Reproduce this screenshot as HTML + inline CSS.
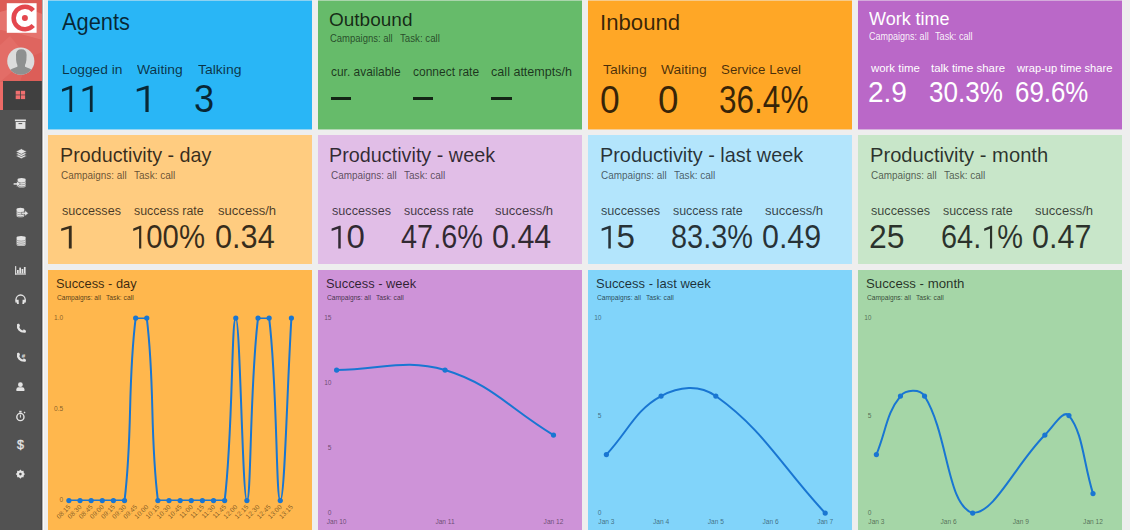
<!DOCTYPE html>
<html><head><meta charset="utf-8"><style>
*{margin:0;padding:0;box-sizing:border-box}
html,body{width:1130px;height:530px;overflow:hidden;background:#eeeeee;font-family:"Liberation Sans", sans-serif}
#sb{position:absolute;left:0;top:0;width:42px;height:530px}
#sbline{position:absolute;left:42px;top:0;width:2px;height:530px;background:linear-gradient(90deg,#b0b0b0 0,#b0b0b0 1px,#fafafa 1px)}
.card{position:absolute;width:264px}
.t{position:absolute;white-space:nowrap;line-height:1;--c:rgba(0,0,0,0.78);color:var(--c);transform-origin:0 0}
.o{position:relative;color:transparent}
.o svg{position:absolute;left:0;top:0;width:0.5562em;height:1.117em;fill:var(--c);overflow:visible}
.dash{position:absolute;height:2.4px;background:rgba(0,0,0,0.8)}
.ov{position:absolute;left:0;top:0}
.ov text{font-family:"Liberation Sans", sans-serif}
</style></head><body>
<div id="sb">
<svg width="42" height="530" viewBox="0 0 42 530" style="position:absolute;left:0;top:0">
<defs><clipPath id="av"><circle cx="20.8" cy="61.1" r="13.6"/></clipPath></defs>
<rect x="0" y="0" width="42" height="110" fill="#e0665f"/>
<polygon points="0,0 42,0 42,14 22,6 0,12" fill="#dc5c56"/>
<polygon points="0,12 22,6 42,14 42,40 20,34 0,30" fill="#e5736d"/>
<polygon points="0,30 20,34 42,40 42,82 0,82" fill="#df655f"/>
<polygon points="0,45 10,36 28,58 0,82" fill="#e36d67"/>
<polygon points="28,58 42,52 42,82 20,82" fill="#dc5e58"/>
<rect x="0" y="82" width="3" height="28" fill="#ec6a66"/>
<rect x="3" y="81" width="39" height="29" fill="#404040"/>
<rect x="0" y="110" width="42" height="420" fill="#525252"/>
<rect x="41" y="81" width="1" height="449" fill="#484848"/>
<rect x="6.8" y="3.2" width="29.8" height="29.6" fill="#fff"/>
<path d="M33.26 10.47 A11.25 11.25 0 1 0 33.26 25.53" fill="none" stroke="#e4474e" stroke-width="4.5"/>
<circle cx="24.9" cy="17.9" r="3.0" fill="#e4474e"/>
<circle cx="20.8" cy="61.1" r="13.6" fill="#dcdcdc"/>
<g clip-path="url(#av)" fill="#8e9090">
<path d="M16 55 Q16 49.3 21.3 49.3 Q26.6 49.3 26.6 55 L26.4 60 Q26 63.5 25 65 L25 66.8 Q30.5 68.2 34 71.5 L34.5 76 L7 76 L7.8 71.5 Q11.5 68.2 17.4 66.8 L17.4 65 Q16.4 63.5 16.1 60 Z"/>
</g>
<rect x="15.7" y="90.8" width="4.3" height="3.8" fill="#ef6f6f"/><rect x="20.8" y="90.8" width="4.3" height="3.8" fill="#ef6f6f"/><rect x="15.7" y="95.3" width="4.3" height="3.8" fill="#ef6f6f"/><rect x="20.8" y="95.3" width="4.3" height="3.8" fill="#ef6f6f"/><rect x="14.9" y="119.5" width="11" height="1.7" fill="#e4e4e4"/><rect x="15.7" y="122" width="9.7" height="6.9" fill="#e4e4e4"/><rect x="18.5" y="123.1" width="3.7" height="1" fill="#525252"/><polygon points="15.7,156.00 21.3,153.20 26.9,156.00 21.3,158.80" fill="#e4e4e4" stroke="#525252" stroke-width="0.7"/><polygon points="15.7,153.80 21.3,151.00 26.9,153.80 21.3,156.60" fill="#e4e4e4" stroke="#525252" stroke-width="0.7"/><polygon points="15.7,151.50 21.3,148.70 26.9,151.50 21.3,154.30" fill="#e4e4e4" stroke="#525252" stroke-width="0.7"/><path d="M17.60 179.40 A4.00 1.50 0 0 1 25.60 179.40 L25.60 185.90 A4.00 1.50 0 0 1 17.60 185.90 Z" fill="#e4e4e4"/><path d="M17.60 181.32 A4.00 1.50 0 0 0 25.60 181.32" fill="none" stroke="#6a6a6a" stroke-width="0.55"/><path d="M17.60 183.31 A4.00 1.50 0 0 0 25.60 183.31" fill="none" stroke="#6a6a6a" stroke-width="0.55"/><path d="M17.60 185.31 A4.00 1.50 0 0 0 25.60 185.31" fill="none" stroke="#6a6a6a" stroke-width="0.55"/><path d="M13.4 182.9 H16.8 V180.9 L20.4 183.9 L16.8 186.9 V184.9 H13.4 Z" fill="#e4e4e4" stroke="#525252" stroke-width="0.5"/><path d="M16.60 209.30 A3.80 1.50 0 0 1 24.20 209.30 L24.20 215.80 A3.80 1.50 0 0 1 16.60 215.80 Z" fill="#e4e4e4"/><path d="M16.60 211.22 A3.80 1.50 0 0 0 24.20 211.22" fill="none" stroke="#6a6a6a" stroke-width="0.55"/><path d="M16.60 213.22 A3.80 1.50 0 0 0 24.20 213.22" fill="none" stroke="#6a6a6a" stroke-width="0.55"/><path d="M16.60 215.21 A3.80 1.50 0 0 0 24.20 215.21" fill="none" stroke="#6a6a6a" stroke-width="0.55"/><path d="M21.4 212.3 H24.8 V210.3 L28.4 213.3 L24.8 216.3 V214.3 H21.4 Z" fill="#e4e4e4" stroke="#525252" stroke-width="0.5"/><path d="M16.60 237.60 A4.50 1.50 0 0 1 25.60 237.60 L25.60 244.40 A4.50 1.50 0 0 1 16.60 244.40 Z" fill="#e4e4e4"/><path d="M16.60 239.63 A4.50 1.50 0 0 0 25.60 239.63" fill="none" stroke="#6a6a6a" stroke-width="0.55"/><path d="M16.60 241.69 A4.50 1.50 0 0 0 25.60 241.69" fill="none" stroke="#6a6a6a" stroke-width="0.55"/><path d="M16.60 243.74 A4.50 1.50 0 0 0 25.60 243.74" fill="none" stroke="#6a6a6a" stroke-width="0.55"/><rect x="15.1" y="266.1" width="1.1" height="8.5" fill="#e4e4e4"/><rect x="15.1" y="273.5" width="10.8" height="1.1" fill="#e4e4e4"/><rect x="17.0" y="270.0" width="1.7" height="3.50" fill="#e4e4e4"/><rect x="19.3" y="267.6" width="1.7" height="5.90" fill="#e4e4e4"/><rect x="21.6" y="269.0" width="1.7" height="4.50" fill="#e4e4e4"/><rect x="23.9" y="267.0" width="1.7" height="6.50" fill="#e4e4e4"/><path d="M16.0 302.5 V299.6 A4.6 4.6 0 0 1 25.2 299.6 V302.5" fill="none" stroke="#e4e4e4" stroke-width="1.3"/><path d="M15.4 299.8 L18.6 299.8 L18.8 304.0 L17.2 304.0 Z" fill="#e4e4e4"/><path d="M25.8 299.8 L22.6 299.8 L22.4 304.0 L24.0 304.0 Z" fill="#e4e4e4"/><path d="M18.20 325.00 C17.40 328.60 20.10 331.80 24.80 331.60" fill="none" stroke="#e4e4e4" stroke-width="2.4" stroke-linecap="round"/><path d="M17.40 324.20 l1.6 -0.4 l1.0 2.2 l-1.4 1.0 Z" fill="#e4e4e4"/><path d="M23.10 330.80 l0.4 -1.6 l2.2 1.0 l-0.8 1.6 Z" fill="#e4e4e4"/><path d="M18.20 354.00 C17.40 357.60 20.10 360.80 24.80 360.60" fill="none" stroke="#e4e4e4" stroke-width="2.4" stroke-linecap="round"/><path d="M17.40 353.20 l1.6 -0.4 l1.0 2.2 l-1.4 1.0 Z" fill="#e4e4e4"/><path d="M23.10 359.80 l0.4 -1.6 l2.2 1.0 l-0.8 1.6 Z" fill="#e4e4e4"/><text x="23.6" y="357.6" font-size="6.2" font-weight="bold" text-anchor="middle" fill="#e4e4e4" font-family="Liberation Sans">#</text><circle cx="20.4" cy="384.7" r="2.4" fill="#e4e4e4"/><path d="M16.4 390.9 V389.2 Q16.4 387.2 18.4 387.2 H22.4 Q24.4 387.2 24.4 389.2 V390.9 Z" fill="#e4e4e4"/><circle cx="20.4" cy="417.0" r="3.6" fill="none" stroke="#e4e4e4" stroke-width="1.4"/><rect x="19.2" y="410.8" width="2.4" height="1.8" fill="#e4e4e4"/><path d="M23.6 412.6 l1.2 -1.0 l0.7 0.8 l-1.1 1.1 Z" fill="#e4e4e4"/><path d="M20.4 414.6 V417.6" stroke="#e4e4e4" stroke-width="1.0"/><text x="20.4" y="449.3" font-size="12.5" text-anchor="middle" fill="#e4e4e4" stroke="#e4e4e4" stroke-width="0.35" font-family="Liberation Sans">$</text><polygon points="20.40,469.50 21.70,470.96 23.65,470.85 23.54,472.80 25.00,474.10 23.54,475.40 23.65,477.35 21.70,477.24 20.40,478.70 19.10,477.24 17.15,477.35 17.26,475.40 15.80,474.10 17.26,472.80 17.15,470.85 19.10,470.96" fill="#e4e4e4"/><circle cx="20.4" cy="474.1" r="3.3" fill="#e4e4e4"/><circle cx="20.4" cy="474.1" r="1.3" fill="#525252"/>
</svg>
</div>
<div id="sbline"></div>
<div class="card" style="left:48px;top:1px;height:128px;background:#29b6f6"></div><div class="card" style="left:48px;top:0;height:1px;background:#29b6f6;opacity:0.5"></div><div class="card" style="left:48px;top:129px;height:1px;background:#29b6f6;opacity:0.45"></div><div class="card" style="left:318px;top:1px;height:128px;background:#66bb6a"></div><div class="card" style="left:318px;top:0;height:1px;background:#66bb6a;opacity:0.5"></div><div class="card" style="left:318px;top:129px;height:1px;background:#66bb6a;opacity:0.45"></div><div class="card" style="left:588px;top:1px;height:128px;background:#ffa726"></div><div class="card" style="left:588px;top:0;height:1px;background:#ffa726;opacity:0.5"></div><div class="card" style="left:588px;top:129px;height:1px;background:#ffa726;opacity:0.45"></div><div class="card" style="left:858px;top:1px;height:128px;background:#ba68c8"></div><div class="card" style="left:858px;top:0;height:1px;background:#ba68c8;opacity:0.5"></div><div class="card" style="left:858px;top:129px;height:1px;background:#ba68c8;opacity:0.45"></div><div class="card" style="left:48px;top:135.2px;height:129px;background:#ffcc80"></div><div class="card" style="left:318px;top:135.2px;height:129px;background:#e1bee7"></div><div class="card" style="left:588px;top:135.2px;height:129px;background:#b3e5fc"></div><div class="card" style="left:858px;top:135.2px;height:129px;background:#c8e6c9"></div><div class="card" style="left:48px;top:270.2px;height:270px;background:#ffb74d"></div><div class="card" style="left:318px;top:270.2px;height:270px;background:#ce93d8"></div><div class="card" style="left:588px;top:270.2px;height:270px;background:#81d4fa"></div><div class="card" style="left:858px;top:270.2px;height:270px;background:#a5d6a7"></div>
<div class="t" style="left:61.70px;top:11.07px;font-size:23.19px;transform:scaleX(0.942);">Agents</div><div class="t" style="left:62.40px;top:63.39px;font-size:13.24px;transform:scaleX(1.039);--c:rgba(0,0,0,0.72);">Logged in</div><div class="t" style="left:137.23px;top:63.39px;font-size:13.24px;transform:scaleX(1.049);--c:rgba(0,0,0,0.72);">Waiting</div><div class="t" style="left:197.72px;top:63.39px;font-size:13.24px;transform:scaleX(1.056);--c:rgba(0,0,0,0.72);">Talking</div><div class="t" style="left:58.36px;top:80.67px;font-size:37.71px;transform:scaleX(0.975);"><span class="o">1<svg viewBox="0 -0.905 0.5562 1.117"><polygon points="0.110,-0.614 0.345,-0.700 0.385,-0.700 0.385,-0.000 0.310,-0.000 0.310,-0.605 0.110,-0.538"/></svg></span><span class="o">1<svg viewBox="0 -0.905 0.5562 1.117"><polygon points="0.110,-0.614 0.345,-0.700 0.385,-0.700 0.385,-0.000 0.310,-0.000 0.310,-0.605 0.110,-0.538"/></svg></span></div><div class="t" style="left:131.65px;top:80.67px;font-size:37.71px;transform:scaleX(1.146);"><span class="o">1<svg viewBox="0 -0.905 0.5562 1.117"><polygon points="0.110,-0.614 0.345,-0.700 0.385,-0.700 0.385,-0.000 0.310,-0.000 0.310,-0.605 0.110,-0.538"/></svg></span></div><div class="t" style="left:194.25px;top:80.31px;font-size:38.14px;transform:scaleX(0.949);">3</div><div class="t" style="left:329.44px;top:10.09px;font-size:19.03px;transform:scaleX(0.999);">Outbound</div><div class="t" style="left:330.23px;top:33.09px;font-size:10.76px;transform:scaleX(0.882);--c:rgba(0,0,0,0.62);">Campaigns: all</div><div class="t" style="left:400.01px;top:33.09px;font-size:10.76px;transform:scaleX(0.901);--c:rgba(0,0,0,0.62);">Task: call</div><div class="t" style="left:330.72px;top:66.17px;font-size:12.55px;transform:scaleX(0.951);--c:rgba(0,0,0,0.72);">cur. available</div><div class="t" style="left:412.62px;top:66.12px;font-size:12.62px;transform:scaleX(0.952);--c:rgba(0,0,0,0.72);">connect rate</div><div class="t" style="left:491.10px;top:66.17px;font-size:12.55px;transform:scaleX(1.000);--c:rgba(0,0,0,0.72);">call attempts/h</div><div class="t" style="left:600.30px;top:11.77px;font-size:22.48px;transform:scaleX(0.987);">Inbound</div><div class="t" style="left:603.12px;top:63.39px;font-size:13.24px;transform:scaleX(1.061);--c:rgba(0,0,0,0.72);">Talking</div><div class="t" style="left:661.33px;top:63.39px;font-size:13.24px;transform:scaleX(1.047);--c:rgba(0,0,0,0.72);">Waiting</div><div class="t" style="left:720.50px;top:63.39px;font-size:13.24px;transform:scaleX(1.007);--c:rgba(0,0,0,0.72);">Service Level</div><div class="t" style="left:599.78px;top:80.53px;font-size:38.00px;transform:scaleX(0.932);">0</div><div class="t" style="left:657.73px;top:80.53px;font-size:38.00px;transform:scaleX(0.970);">0</div><div class="t" style="left:718.74px;top:80.53px;font-size:38.00px;transform:scaleX(0.830);">36.4%</div><div class="t" style="left:869.31px;top:9.87px;font-size:18.34px;transform:scaleX(0.981);--c:#fff;">Work time</div><div class="t" style="left:868.95px;top:31.88px;font-size:10.07px;transform:scaleX(0.896);--c:rgba(255,255,255,0.92);">Campaigns: all</div><div class="t" style="left:935.22px;top:31.88px;font-size:10.07px;transform:scaleX(0.910);--c:rgba(255,255,255,0.92);">Task: call</div><div class="t" style="left:870.50px;top:63.01px;font-size:11.45px;transform:scaleX(0.997);--c:#fff;">work time</div><div class="t" style="left:931.23px;top:63.01px;font-size:11.45px;transform:scaleX(0.996);--c:#fff;">talk time share</div><div class="t" style="left:1017.20px;top:63.01px;font-size:11.45px;transform:scaleX(0.974);--c:#fff;">wrap-up time share</div><div class="t" style="left:867.60px;top:77.71px;font-size:28.57px;transform:scaleX(0.981);--c:#fff;">2.9</div><div class="t" style="left:929.26px;top:77.71px;font-size:28.57px;transform:scaleX(0.912);--c:#fff;">30.3%</div><div class="t" style="left:1014.81px;top:77.71px;font-size:28.57px;transform:scaleX(0.906);--c:#fff;">69.6%</div><div class="t" style="left:59.62px;top:145.17px;font-size:20.83px;transform:scaleX(0.948);">Productivity - day</div><div class="t" style="left:60.70px;top:170.09px;font-size:10.76px;transform:scaleX(0.924);--c:rgba(0,0,0,0.62);">Campaigns: all</div><div class="t" style="left:133.80px;top:170.09px;font-size:10.76px;transform:scaleX(0.935);--c:rgba(0,0,0,0.62);">Task: call</div><div class="t" style="left:61.72px;top:204.65px;font-size:12.22px;transform:scaleX(1.034);--c:rgba(0,0,0,0.72);">successes</div><div class="t" style="left:133.63px;top:204.58px;font-size:12.31px;transform:scaleX(1.010);--c:rgba(0,0,0,0.72);">success rate</div><div class="t" style="left:217.91px;top:204.73px;font-size:12.14px;transform:scaleX(1.078);--c:rgba(0,0,0,0.72);">success/h</div><div class="t" style="left:57.40px;top:220.63px;font-size:32.57px;transform:scaleX(1.173);"><span class="o">1<svg viewBox="0 -0.905 0.5562 1.117"><polygon points="0.110,-0.614 0.345,-0.700 0.385,-0.700 0.385,-0.000 0.310,-0.000 0.310,-0.605 0.110,-0.538"/></svg></span></div><div class="t" style="left:130.28px;top:220.63px;font-size:32.57px;transform:scaleX(0.900);"><span class="o">1<svg viewBox="0 -0.905 0.5562 1.117"><polygon points="0.110,-0.614 0.345,-0.700 0.385,-0.700 0.385,-0.000 0.310,-0.000 0.310,-0.605 0.110,-0.538"/></svg></span>00%</div><div class="t" style="left:215.27px;top:220.63px;font-size:32.57px;transform:scaleX(0.942);">0.34</div><div class="t" style="left:329.42px;top:145.17px;font-size:20.83px;transform:scaleX(0.950);">Productivity - week</div><div class="t" style="left:330.70px;top:170.09px;font-size:10.76px;transform:scaleX(0.924);--c:rgba(0,0,0,0.62);">Campaigns: all</div><div class="t" style="left:403.80px;top:170.09px;font-size:10.76px;transform:scaleX(0.935);--c:rgba(0,0,0,0.62);">Task: call</div><div class="t" style="left:331.72px;top:204.65px;font-size:12.22px;transform:scaleX(1.034);--c:rgba(0,0,0,0.72);">successes</div><div class="t" style="left:403.63px;top:204.58px;font-size:12.31px;transform:scaleX(1.010);--c:rgba(0,0,0,0.72);">success rate</div><div class="t" style="left:494.51px;top:204.73px;font-size:12.14px;transform:scaleX(1.078);--c:rgba(0,0,0,0.72);">success/h</div><div class="t" style="left:327.56px;top:220.63px;font-size:32.57px;transform:scaleX(1.015);"><span class="o">1<svg viewBox="0 -0.905 0.5562 1.117"><polygon points="0.110,-0.614 0.345,-0.700 0.385,-0.700 0.385,-0.000 0.310,-0.000 0.310,-0.605 0.110,-0.538"/></svg></span>0</div><div class="t" style="left:400.72px;top:220.63px;font-size:32.57px;transform:scaleX(0.887);">47.6%</div><div class="t" style="left:492.38px;top:220.63px;font-size:32.57px;transform:scaleX(0.935);">0.44</div><div class="t" style="left:599.61px;top:145.17px;font-size:20.83px;transform:scaleX(0.954);">Productivity - last week</div><div class="t" style="left:600.70px;top:170.09px;font-size:10.76px;transform:scaleX(0.924);--c:rgba(0,0,0,0.62);">Campaigns: all</div><div class="t" style="left:673.80px;top:170.09px;font-size:10.76px;transform:scaleX(0.935);--c:rgba(0,0,0,0.62);">Task: call</div><div class="t" style="left:601.22px;top:204.65px;font-size:12.22px;transform:scaleX(1.034);--c:rgba(0,0,0,0.72);">successes</div><div class="t" style="left:673.13px;top:204.58px;font-size:12.31px;transform:scaleX(1.010);--c:rgba(0,0,0,0.72);">success rate</div><div class="t" style="left:764.51px;top:204.73px;font-size:12.14px;transform:scaleX(1.078);--c:rgba(0,0,0,0.72);">success/h</div><div class="t" style="left:597.54px;top:220.63px;font-size:32.57px;transform:scaleX(1.020);"><span class="o">1<svg viewBox="0 -0.905 0.5562 1.117"><polygon points="0.110,-0.614 0.345,-0.700 0.385,-0.700 0.385,-0.000 0.310,-0.000 0.310,-0.605 0.110,-0.538"/></svg></span>5</div><div class="t" style="left:670.70px;top:220.63px;font-size:32.57px;transform:scaleX(0.887);">83.3%</div><div class="t" style="left:762.38px;top:220.63px;font-size:32.57px;transform:scaleX(0.934);">0.49</div><div class="t" style="left:869.59px;top:145.17px;font-size:20.83px;transform:scaleX(0.968);">Productivity - month</div><div class="t" style="left:870.70px;top:170.09px;font-size:10.76px;transform:scaleX(0.924);--c:rgba(0,0,0,0.62);">Campaigns: all</div><div class="t" style="left:943.80px;top:170.09px;font-size:10.76px;transform:scaleX(0.935);--c:rgba(0,0,0,0.62);">Task: call</div><div class="t" style="left:871.22px;top:204.65px;font-size:12.22px;transform:scaleX(1.034);--c:rgba(0,0,0,0.72);">successes</div><div class="t" style="left:943.13px;top:204.58px;font-size:12.31px;transform:scaleX(1.010);--c:rgba(0,0,0,0.72);">success rate</div><div class="t" style="left:1034.51px;top:204.73px;font-size:12.14px;transform:scaleX(1.078);--c:rgba(0,0,0,0.72);">success/h</div><div class="t" style="left:868.90px;top:220.63px;font-size:32.57px;transform:scaleX(0.981);">25</div><div class="t" style="left:940.55px;top:220.63px;font-size:32.57px;transform:scaleX(0.889);">64.<span class="o">1<svg viewBox="0 -0.905 0.5562 1.117"><polygon points="0.110,-0.614 0.345,-0.700 0.385,-0.700 0.385,-0.000 0.310,-0.000 0.310,-0.605 0.110,-0.538"/></svg></span>%</div><div class="t" style="left:1032.38px;top:220.63px;font-size:32.57px;transform:scaleX(0.937);">0.47</div><div class="t" style="left:56.02px;top:277.72px;font-size:12.97px;transform:scaleX(0.990);">Success - day</div><div class="t" style="left:56.57px;top:293.71px;font-size:7.31px;transform:scaleX(0.912);--c:rgba(0,0,0,0.7);">Campaigns: all</div><div class="t" style="left:105.66px;top:293.71px;font-size:7.31px;transform:scaleX(0.924);--c:rgba(0,0,0,0.7);">Task: call</div><div class="t" style="left:326.02px;top:277.72px;font-size:12.97px;transform:scaleX(0.992);">Success - week</div><div class="t" style="left:326.57px;top:293.71px;font-size:7.31px;transform:scaleX(0.912);--c:rgba(0,0,0,0.7);">Campaigns: all</div><div class="t" style="left:375.66px;top:293.71px;font-size:7.31px;transform:scaleX(0.924);--c:rgba(0,0,0,0.7);">Task: call</div><div class="t" style="left:596.02px;top:277.72px;font-size:12.97px;transform:scaleX(1.001);">Success - last week</div><div class="t" style="left:596.57px;top:293.71px;font-size:7.31px;transform:scaleX(0.912);--c:rgba(0,0,0,0.7);">Campaigns: all</div><div class="t" style="left:645.66px;top:293.71px;font-size:7.31px;transform:scaleX(0.924);--c:rgba(0,0,0,0.7);">Task: call</div><div class="t" style="left:866.01px;top:277.72px;font-size:12.97px;transform:scaleX(1.019);">Success - month</div><div class="t" style="left:866.57px;top:293.71px;font-size:7.31px;transform:scaleX(0.912);--c:rgba(0,0,0,0.7);">Campaigns: all</div><div class="t" style="left:915.66px;top:293.71px;font-size:7.31px;transform:scaleX(0.924);--c:rgba(0,0,0,0.7);">Task: call</div><div class="dash" style="left:331.2px;top:97.2px;width:20.3px"></div><div class="dash" style="left:413.1px;top:97.2px;width:19.9px"></div><div class="dash" style="left:491.4px;top:97.2px;width:20.6px"></div>
<svg class="ov" width="1130" height="530" viewBox="0 0 1130 530"><text x="63.20" y="319.80" font-size="6.6" text-anchor="end" fill="rgba(0,0,0,0.5)">1.0</text><text x="63.20" y="411.00" font-size="6.6" text-anchor="end" fill="rgba(0,0,0,0.5)">0.5</text><text x="63.20" y="502.30" font-size="6.6" text-anchor="end" fill="rgba(0,0,0,0.5)">0</text><text x="331.50" y="319.80" font-size="6.6" text-anchor="end" fill="rgba(0,0,0,0.5)">15</text><text x="331.50" y="385.00" font-size="6.6" text-anchor="end" fill="rgba(0,0,0,0.5)">10</text><text x="331.50" y="449.80" font-size="6.6" text-anchor="end" fill="rgba(0,0,0,0.5)">5</text><text x="331.50" y="515.00" font-size="6.6" text-anchor="end" fill="rgba(0,0,0,0.5)">0</text><text x="601.50" y="319.80" font-size="6.6" text-anchor="end" fill="rgba(0,0,0,0.5)">10</text><text x="601.50" y="417.60" font-size="6.6" text-anchor="end" fill="rgba(0,0,0,0.5)">5</text><text x="601.50" y="515.00" font-size="6.6" text-anchor="end" fill="rgba(0,0,0,0.5)">0</text><text x="871.50" y="319.80" font-size="6.6" text-anchor="end" fill="rgba(0,0,0,0.5)">10</text><text x="871.50" y="417.60" font-size="6.6" text-anchor="end" fill="rgba(0,0,0,0.5)">5</text><text x="871.50" y="515.00" font-size="6.6" text-anchor="end" fill="rgba(0,0,0,0.5)">0</text><text x="70.90" y="507.50" font-size="6.6" text-anchor="end" fill="rgba(0,0,0,0.5)" transform="rotate(-45 70.90 507.50)">08:15</text><text x="82.03" y="507.50" font-size="6.6" text-anchor="end" fill="rgba(0,0,0,0.5)" transform="rotate(-45 82.03 507.50)">08:30</text><text x="93.15" y="507.50" font-size="6.6" text-anchor="end" fill="rgba(0,0,0,0.5)" transform="rotate(-45 93.15 507.50)">08:45</text><text x="104.28" y="507.50" font-size="6.6" text-anchor="end" fill="rgba(0,0,0,0.5)" transform="rotate(-45 104.28 507.50)">09:00</text><text x="115.40" y="507.50" font-size="6.6" text-anchor="end" fill="rgba(0,0,0,0.5)" transform="rotate(-45 115.40 507.50)">09:15</text><text x="126.53" y="507.50" font-size="6.6" text-anchor="end" fill="rgba(0,0,0,0.5)" transform="rotate(-45 126.53 507.50)">09:30</text><text x="137.65" y="507.50" font-size="6.6" text-anchor="end" fill="rgba(0,0,0,0.5)" transform="rotate(-45 137.65 507.50)">09:45</text><text x="148.78" y="507.50" font-size="6.6" text-anchor="end" fill="rgba(0,0,0,0.5)" transform="rotate(-45 148.78 507.50)">10:00</text><text x="159.90" y="507.50" font-size="6.6" text-anchor="end" fill="rgba(0,0,0,0.5)" transform="rotate(-45 159.90 507.50)">10:15</text><text x="171.03" y="507.50" font-size="6.6" text-anchor="end" fill="rgba(0,0,0,0.5)" transform="rotate(-45 171.03 507.50)">10:30</text><text x="182.15" y="507.50" font-size="6.6" text-anchor="end" fill="rgba(0,0,0,0.5)" transform="rotate(-45 182.15 507.50)">10:45</text><text x="193.28" y="507.50" font-size="6.6" text-anchor="end" fill="rgba(0,0,0,0.5)" transform="rotate(-45 193.28 507.50)">11:00</text><text x="204.40" y="507.50" font-size="6.6" text-anchor="end" fill="rgba(0,0,0,0.5)" transform="rotate(-45 204.40 507.50)">11:15</text><text x="215.53" y="507.50" font-size="6.6" text-anchor="end" fill="rgba(0,0,0,0.5)" transform="rotate(-45 215.53 507.50)">11:30</text><text x="226.65" y="507.50" font-size="6.6" text-anchor="end" fill="rgba(0,0,0,0.5)" transform="rotate(-45 226.65 507.50)">11:45</text><text x="237.78" y="507.50" font-size="6.6" text-anchor="end" fill="rgba(0,0,0,0.5)" transform="rotate(-45 237.78 507.50)">12:00</text><text x="248.90" y="507.50" font-size="6.6" text-anchor="end" fill="rgba(0,0,0,0.5)" transform="rotate(-45 248.90 507.50)">12:15</text><text x="260.02" y="507.50" font-size="6.6" text-anchor="end" fill="rgba(0,0,0,0.5)" transform="rotate(-45 260.02 507.50)">12:30</text><text x="271.15" y="507.50" font-size="6.6" text-anchor="end" fill="rgba(0,0,0,0.5)" transform="rotate(-45 271.15 507.50)">12:45</text><text x="282.27" y="507.50" font-size="6.6" text-anchor="end" fill="rgba(0,0,0,0.5)" transform="rotate(-45 282.27 507.50)">13:00</text><text x="293.40" y="507.50" font-size="6.6" text-anchor="end" fill="rgba(0,0,0,0.5)" transform="rotate(-45 293.40 507.50)">13:15</text><text x="336.60" y="523.70" font-size="6.6" text-anchor="middle" fill="rgba(0,0,0,0.5)">Jan 10</text><text x="445.05" y="523.70" font-size="6.6" text-anchor="middle" fill="rgba(0,0,0,0.5)">Jan 11</text><text x="553.50" y="523.70" font-size="6.6" text-anchor="middle" fill="rgba(0,0,0,0.5)">Jan 12</text><text x="606.40" y="523.70" font-size="6.6" text-anchor="middle" fill="rgba(0,0,0,0.5)">Jan 3</text><text x="661.10" y="523.70" font-size="6.6" text-anchor="middle" fill="rgba(0,0,0,0.5)">Jan 4</text><text x="715.80" y="523.70" font-size="6.6" text-anchor="middle" fill="rgba(0,0,0,0.5)">Jan 5</text><text x="770.50" y="523.70" font-size="6.6" text-anchor="middle" fill="rgba(0,0,0,0.5)">Jan 6</text><text x="825.20" y="523.70" font-size="6.6" text-anchor="middle" fill="rgba(0,0,0,0.5)">Jan 7</text><text x="876.40" y="523.70" font-size="6.6" text-anchor="middle" fill="rgba(0,0,0,0.5)">Jan 3</text><text x="948.60" y="523.70" font-size="6.6" text-anchor="middle" fill="rgba(0,0,0,0.5)">Jan 6</text><text x="1020.80" y="523.70" font-size="6.6" text-anchor="middle" fill="rgba(0,0,0,0.5)">Jan 9</text><text x="1093.00" y="523.70" font-size="6.6" text-anchor="middle" fill="rgba(0,0,0,0.5)">Jan 12</text><clipPath id="cc0"><rect x="62.90" y="317.60" width="234.50" height="183.50"/></clipPath><path d="M68.90 500.60 C73.35 500.60 75.58 500.60 80.03 500.60 C84.48 500.60 86.70 500.60 91.15 500.60 C95.60 500.60 97.83 500.60 102.28 500.60 C106.73 500.60 108.95 500.60 113.40 500.60 C117.85 500.60 124.01 500.60 124.53 500.60 C132.91 431.79 127.26 386.91 135.65 318.10 C136.16 318.10 146.26 318.10 146.78 318.10 C155.16 386.91 149.51 431.79 157.90 500.60 C158.41 500.60 164.58 500.60 169.03 500.60 C173.47 500.60 175.70 500.60 180.15 500.60 C184.60 500.60 186.83 500.60 191.28 500.60 C195.72 500.60 197.95 500.60 202.40 500.60 C206.85 500.60 209.08 500.60 213.53 500.60 C217.97 500.60 224.14 500.60 224.65 500.60 C233.04 431.79 231.33 318.10 235.78 318.10 C240.22 318.10 242.45 500.60 246.90 500.60 C251.35 500.60 249.64 386.91 258.02 318.10 C258.54 318.10 268.64 318.10 269.15 318.10 C277.54 386.91 275.82 500.60 280.27 500.60 C284.72 500.60 286.95 391.10 291.40 318.10" fill="none" stroke="#1976d2" stroke-width="2" clip-path="url(#cc0)"/><circle cx="68.90" cy="500.60" r="2.6" fill="#1976d2"/><circle cx="80.03" cy="500.60" r="2.6" fill="#1976d2"/><circle cx="91.15" cy="500.60" r="2.6" fill="#1976d2"/><circle cx="102.28" cy="500.60" r="2.6" fill="#1976d2"/><circle cx="113.40" cy="500.60" r="2.6" fill="#1976d2"/><circle cx="124.53" cy="500.60" r="2.6" fill="#1976d2"/><circle cx="135.65" cy="318.10" r="2.6" fill="#1976d2"/><circle cx="146.78" cy="318.10" r="2.6" fill="#1976d2"/><circle cx="157.90" cy="500.60" r="2.6" fill="#1976d2"/><circle cx="169.03" cy="500.60" r="2.6" fill="#1976d2"/><circle cx="180.15" cy="500.60" r="2.6" fill="#1976d2"/><circle cx="191.28" cy="500.60" r="2.6" fill="#1976d2"/><circle cx="202.40" cy="500.60" r="2.6" fill="#1976d2"/><circle cx="213.53" cy="500.60" r="2.6" fill="#1976d2"/><circle cx="224.65" cy="500.60" r="2.6" fill="#1976d2"/><circle cx="235.78" cy="318.10" r="2.6" fill="#1976d2"/><circle cx="246.90" cy="500.60" r="2.6" fill="#1976d2"/><circle cx="258.02" cy="318.10" r="2.6" fill="#1976d2"/><circle cx="269.15" cy="318.10" r="2.6" fill="#1976d2"/><circle cx="280.27" cy="500.60" r="2.6" fill="#1976d2"/><circle cx="291.40" cy="318.10" r="2.6" fill="#1976d2"/><clipPath id="cc1"><rect x="330.60" y="317.50" width="228.90" height="196.10"/></clipPath><path d="M336.60 370.03 C379.98 370.03 404.99 358.02 445.05 370.03 C491.75 384.03 510.12 409.05 553.50 435.06" fill="none" stroke="#1976d2" stroke-width="2" clip-path="url(#cc1)"/><circle cx="336.60" cy="370.03" r="2.6" fill="#1976d2"/><circle cx="445.05" cy="370.03" r="2.6" fill="#1976d2"/><circle cx="553.50" cy="435.06" r="2.6" fill="#1976d2"/><clipPath id="cc2"><rect x="600.40" y="317.50" width="230.80" height="196.10"/></clipPath><path d="M606.40 454.57 C628.28 431.16 635.10 409.95 661.10 396.04 C678.86 386.54 699.09 384.12 715.80 396.04 C764.73 430.95 781.44 466.28 825.20 513.10" fill="none" stroke="#1976d2" stroke-width="2" clip-path="url(#cc2)"/><circle cx="606.40" cy="454.57" r="2.6" fill="#1976d2"/><circle cx="661.10" cy="396.04" r="2.6" fill="#1976d2"/><circle cx="715.80" cy="396.04" r="2.6" fill="#1976d2"/><circle cx="825.20" cy="513.10" r="2.6" fill="#1976d2"/><clipPath id="cc3"><rect x="870.40" y="317.50" width="228.60" height="196.10"/></clipPath><path d="M876.40 454.57 C886.03 431.16 886.52 413.00 900.47 396.04 C905.77 389.59 919.92 388.56 924.53 396.04 C948.80 435.38 946.51 504.62 972.67 513.10 C994.64 513.10 1015.05 465.28 1044.87 435.06 C1053.56 426.26 1063.64 409.11 1068.93 415.55 C1082.89 432.52 1083.37 462.37 1093.00 493.59" fill="none" stroke="#1976d2" stroke-width="2" clip-path="url(#cc3)"/><circle cx="876.40" cy="454.57" r="2.6" fill="#1976d2"/><circle cx="900.47" cy="396.04" r="2.6" fill="#1976d2"/><circle cx="924.53" cy="396.04" r="2.6" fill="#1976d2"/><circle cx="972.67" cy="513.10" r="2.6" fill="#1976d2"/><circle cx="1044.87" cy="435.06" r="2.6" fill="#1976d2"/><circle cx="1068.93" cy="415.55" r="2.6" fill="#1976d2"/><circle cx="1093.00" cy="493.59" r="2.6" fill="#1976d2"/></svg>
</body></html>
